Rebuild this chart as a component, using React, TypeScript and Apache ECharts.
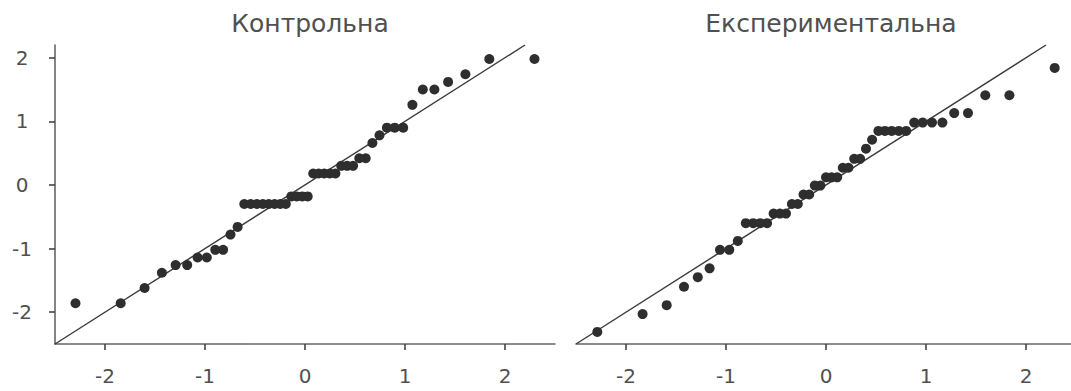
import React, { useEffect, useRef } from "react";
import * as echarts from "echarts";

// Panel titles
const titles = ["Контрольна", "Експериментальна"];

// Tick values shared by both panels
const tickValues = [-2, -1, 0, 1, 2];

// Axis extents
const xRange = [-2.5, 2.5];
const xRangeRight = [-2.5, 2.45];
const yRange = [-2.5, 2.2];

// Reference line y = x, drawn across the vertical range
const refLine = [-2.5, 2.2];

// Control group: theoretical quantiles (n = 46) and ordered sample values
const controlTheoretical = [
  -2.295, -1.843, -1.604, -1.431, -1.294, -1.178, -1.074, -0.982, -0.897, -0.819,
  -0.745, -0.674, -0.607, -0.543, -0.481, -0.421, -0.362, -0.304, -0.248, -0.192,
  -0.137, -0.082, -0.027, 0.027, 0.082, 0.137, 0.192, 0.248, 0.304, 0.362,
  0.421, 0.481, 0.543, 0.607, 0.674, 0.745, 0.819, 0.897, 0.982, 1.074,
  1.178, 1.294, 1.431, 1.604, 1.843, 2.295,
];
const controlSample = [
  -1.86, -1.86, -1.62, -1.38, -1.26, -1.26, -1.14, -1.14, -1.02, -1.02,
  -0.78, -0.66, -0.3, -0.3, -0.3, -0.3, -0.3, -0.3, -0.3, -0.3,
  -0.18, -0.18, -0.18, -0.18, 0.18, 0.18, 0.18, 0.18, 0.18, 0.3,
  0.3, 0.3, 0.42, 0.42, 0.66, 0.78, 0.9, 0.9, 0.9, 1.26,
  1.5, 1.5, 1.62, 1.74, 1.98, 1.98,
];

// Experimental group: theoretical quantiles (n = 45) and ordered sample values
const experimentalTheoretical = [
  -2.287, -1.834, -1.593, -1.42, -1.282, -1.164, -1.06, -0.967, -0.882, -0.802,
  -0.728, -0.657, -0.589, -0.524, -0.461, -0.4, -0.341, -0.282, -0.225, -0.168,
  -0.112, -0.056, 0, 0.056, 0.112, 0.168, 0.225, 0.282, 0.341, 0.4,
  0.461, 0.524, 0.589, 0.657, 0.728, 0.802, 0.882, 0.967, 1.06, 1.164,
  1.282, 1.42, 1.593, 1.834, 2.287,
];
const experimentalSample = [
  -2.31, -2.03, -1.89, -1.6, -1.45, -1.31, -1.02, -1.02, -0.88, -0.6,
  -0.6, -0.6, -0.6, -0.45, -0.45, -0.45, -0.3, -0.3, -0.15, -0.15,
  -0.01, -0.01, 0.12, 0.12, 0.12, 0.27, 0.27, 0.41, 0.41, 0.57,
  0.71, 0.85, 0.85, 0.85, 0.85, 0.85, 0.98, 0.98, 0.98, 0.98,
  1.13, 1.13, 1.41, 1.41, 1.84,
];

const FONT = "DejaVu Sans";
const TEXT_COLOR = "#505050";
const AXIS_COLOR = "#666";
const POINT_COLOR = "#2e2e2e";

const pairs = (xs: number[], ys: number[]) => xs.map((x, i) => [x, ys[i]]);

export default function App() {
  const ref = useRef<HTMLDivElement>(null);

  useEffect(() => {
    if (!ref.current) return;
    const chart = echarts.init(ref.current, undefined, { renderer: "svg" });

    const xAxisBase = (gridIndex: number, range: number[]) => ({
      type: "value" as const,
      gridIndex,
      min: range[0],
      max: range[1],
      splitLine: { show: false },
      axisLine: { show: true, onZero: false, lineStyle: { color: AXIS_COLOR, width: 1.6 } },
      axisTick: {
        show: true,
        length: 6,
        customValues: tickValues,
        lineStyle: { color: "#444", width: 1.6 },
      },
      axisLabel: {
        customValues: tickValues,
        fontSize: 20,
        fontFamily: FONT,
        color: TEXT_COLOR,
        margin: 22,
        formatter: (v: number) => String(v),
      },
    });

    const titleStyle = { fontFamily: FONT, fontSize: 25, fontWeight: "normal", color: TEXT_COLOR };

    chart.setOption({
      animation: false,
      backgroundColor: "#fff",
      title: [
        { text: titles[0], left: 305, top: 6, textAlign: "center", textStyle: titleStyle },
        { text: titles[1], left: 826, top: 6, textAlign: "center", textStyle: titleStyle },
      ],
      grid: [
        { left: 55, top: 45, width: 500, height: 299 },
        { left: 576, top: 45, width: 495, height: 299 },
      ],
      xAxis: [xAxisBase(0, xRange), xAxisBase(1, xRangeRight)],
      yAxis: [
        {
          type: "value",
          gridIndex: 0,
          min: yRange[0],
          max: yRange[1],
          splitLine: { show: false },
          axisLine: { show: true, onZero: false, lineStyle: { color: AXIS_COLOR, width: 1.6 } },
          axisTick: {
            show: true,
            length: 6,
            customValues: tickValues,
            lineStyle: { color: "#444", width: 1.6 },
          },
          axisLabel: {
            customValues: tickValues,
            fontSize: 20,
            fontFamily: FONT,
            color: TEXT_COLOR,
            align: "center",
            margin: 33,
            formatter: (v: number) => String(v),
          },
        },
        {
          type: "value",
          gridIndex: 1,
          min: yRange[0],
          max: yRange[1],
          show: false,
        },
      ],
      series: [
        {
          type: "line",
          xAxisIndex: 0,
          yAxisIndex: 0,
          data: [[refLine[0], refLine[0]], [refLine[1], refLine[1]]],
          showSymbol: false,
          symbol: "none",
          lineStyle: { color: "#3a3a3a", width: 1.4 },
          z: 1,
          silent: true,
        },
        {
          type: "line",
          xAxisIndex: 1,
          yAxisIndex: 1,
          data: [[refLine[0], refLine[0]], [refLine[1], refLine[1]]],
          showSymbol: false,
          symbol: "none",
          lineStyle: { color: "#3a3a3a", width: 1.4 },
          z: 1,
          silent: true,
        },
        {
          type: "scatter",
          xAxisIndex: 0,
          yAxisIndex: 0,
          data: pairs(controlTheoretical, controlSample),
          symbolSize: 10,
          itemStyle: { color: POINT_COLOR, opacity: 1 },
          z: 2,
        },
        {
          type: "scatter",
          xAxisIndex: 1,
          yAxisIndex: 1,
          data: pairs(experimentalTheoretical, experimentalSample),
          symbolSize: 10,
          itemStyle: { color: POINT_COLOR, opacity: 1 },
          z: 2,
        },
      ],
    });

    return () => chart.dispose();
  }, []);

  return (
    <div
      ref={ref}
      style={{ position: "fixed", left: 0, top: 0, width: 1071, height: 391, background: "#fff" }}
    />
  );
}
